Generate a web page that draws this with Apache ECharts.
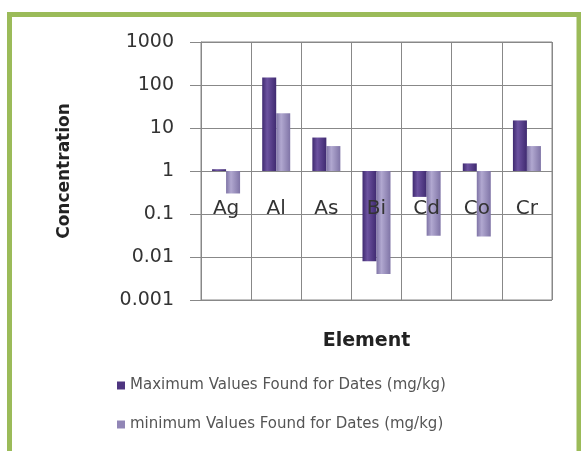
<!DOCTYPE html>
<html>
<head>
<meta charset="utf-8">
<script src="https://cdn.jsdelivr.net/npm/echarts@6/dist/echarts.min.js"></script>
<style>
html,body{margin:0;padding:0;background:#fff;}
#chart{width:581px;height:451px;}
</style>
</head>
<body>
<div id="chart"></div>
<script>
var categories = ['Ag', 'Al', 'As', 'Bi', 'Cd', 'Co', 'Cr'];
var maxValues = [1.1, 150, 6, 0.008, 0.25, 1.5, 15];
var minValues = [0.3, 22, 3.8, 0.004, 0.031, 0.03, 3.8];
var seriesNames = ['Maximum Values Found for Dates (mg/kg)', 'minimum Values Found for Dates (mg/kg)'];
var yTicks = [0.001, 0.01, 0.1, 1, 10, 100, 1000];

var FONT = 'DejaVu Sans';
function grad(dark, light) {
  return new echarts.graphic.LinearGradient(0, 0, 1, 0, [
    {offset: 0, color: dark},
    {offset: 0.35, color: light},
    {offset: 1, color: dark}
  ]);
}
var chart = echarts.init(document.getElementById('chart'), null, {renderer: 'canvas'});
chart.setOption({
  animation: false,
  backgroundColor: '#ffffff',
  graphic: [{
    type: 'rect',
    shape: {x: 9.5, y: 14.5, width: 569.5, height: 500},
    style: {fill: 'none', stroke: '#9bbb59', lineWidth: 5},
    silent: true
  }],
  grid: {left: 201, right: 29, top: 42, bottom: 151, show: true, borderColor: '#888', borderWidth: 1},
  legend: {
    orient: 'vertical', left: 112, top: 373, itemGap: 24,
    itemWidth: 8, itemHeight: 8, icon: 'rect',
    textStyle: {fontFamily: FONT, fontSize: 15, color: '#555'},
    data: [
      {name: seriesNames[0], itemStyle: {color: '#4e3580'}},
      {name: seriesNames[1], itemStyle: {color: '#9186b6'}}
    ]
  },
  xAxis: {
    type: 'category',
    data: categories,
    offset: -128,
    z: 10,
    axisLine: {show: false, onZero: false},
    axisTick: {show: false},
    axisLabel: {margin: 27, fontFamily: FONT, fontSize: 20, color: '#333'},
    splitLine: {show: true, lineStyle: {color: '#888', width: 1}},
    name: 'Element',
    nameLocation: 'middle',
    nameGap: 160,
    nameTextStyle: {fontFamily: FONT, fontSize: 19, fontWeight: 'bold', color: '#222', padding: [0, 20, 0, 0]}
  },
  yAxis: {
    type: 'log',
    logBase: 10,
    min: yTicks[0],
    max: yTicks[yTicks.length - 1],
    interval: 1,
    axisLine: {show: true, lineStyle: {color: '#888'}},
    axisTick: {show: true, length: 11, lineStyle: {color: '#888'}},
    axisLabel: {
      margin: 27, fontFamily: FONT, fontSize: 19, color: '#333',
      formatter: function (v) { return String(+(+v).toPrecision(6)); }
    },
    splitLine: {show: true, lineStyle: {color: '#888', width: 1}},
    name: 'Concentration',
    nameLocation: 'middle',
    nameGap: 128,
    nameTextStyle: {fontFamily: FONT, fontSize: 17, fontWeight: 'bold', color: '#222'}
  },
  series: [
    {
      name: seriesNames[0], type: 'bar', data: maxValues,
      barWidth: 14, barGap: '0%', z: 2,
      itemStyle: {color: grad('#3f2a70', '#6c52a0')}
    },
    {
      name: seriesNames[1], type: 'bar', data: minValues,
      barWidth: 14, barGap: '0%', z: 2,
      itemStyle: {color: grad('#7f74a6', '#b1a8d0')}
    }
  ]
});
</script>
</body>
</html>
